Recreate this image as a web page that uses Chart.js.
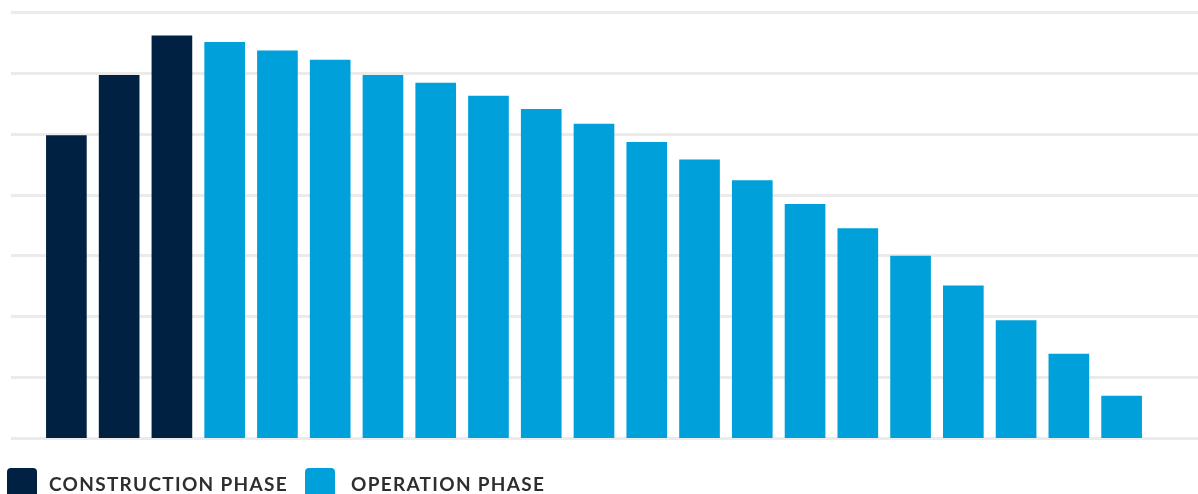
<!DOCTYPE html>
<html>
<head>
<meta charset="utf-8">
<title>Construction and operation phase</title>
<script src="https://cdn.jsdelivr.net/npm/chart.js@4.4.1/dist/chart.umd.min.js"></script>
<style>
  html, body { margin: 0; padding: 0; background: #fff; overflow: hidden; }
  #wrap { position: relative; width: 1198px; height: 494px; }
  #phaseChart { display: block; }
  .legend-box { position: absolute; top: 468px; width: 30px; height: 32px; border-radius: 4px; }
  .legend-text {
    position: absolute; top: 474px; line-height: 19px;
    font-family: Lato, "Open Sans", sans-serif; font-weight: 700; font-size: 19px;
    letter-spacing: 1.3px; color: #2e2e2e; white-space: nowrap;
  }
</style>
</head>
<body>
<div id="wrap">
  <canvas id="phaseChart" width="1198" height="494"></canvas>
  <div id="legend"></div>
</div>
<script>
const years = ["Y1", "Y2", "Y3", "Y4", "Y5", "Y6", "Y7", "Y8", "Y9", "Y10", "Y11",
  "Y12", "Y13", "Y14", "Y15", "Y16", "Y17", "Y18", "Y19", "Y20", "Y21"];
const constructionValues = [49.7, 59.6, 66.1, null, null, null, null, null, null, null, null,
  null, null, null, null, null, null, null, null, null, null];
const operationValues = [null, null, null, 65.0, 63.6, 62.1, 59.6, 58.3, 56.2, 54.0, 51.6,
  48.6, 45.7, 42.3, 38.4, 34.4, 29.9, 25.0, 19.3, 13.8, 6.9];
const yTicks = [0, 10, 20, 30, 40, 50, 60, 70];

const navy = "#012143";
const blue = "#00a0da";

// grid lines run past the plot area, almost edge to edge
const wideGrid = {
  id: "wideGrid",
  beforeDatasetsDraw(chart) {
    const ctx = chart.ctx;
    const y = chart.scales.y;
    ctx.save();
    ctx.strokeStyle = "#ebebeb";
    ctx.lineWidth = 3;
    yTicks.forEach(t => {
      const py = Math.round(y.getPixelForValue(t)) + 0.5;
      ctx.beginPath();
      ctx.moveTo(11, py);
      ctx.lineTo(chart.width, py);
      ctx.stroke();
    });
    ctx.restore();
  }
};

const chart = new Chart(document.getElementById("phaseChart"), {
  type: "bar",
  data: {
    labels: years,
    datasets: [
      { label: "CONSTRUCTION PHASE", data: constructionValues, backgroundColor: navy },
      { label: "OPERATION PHASE", data: operationValues, backgroundColor: blue }
    ]
  },
  options: {
    responsive: false,
    animation: false,
    layout: { padding: { left: 40, right: 50, top: 12, bottom: 56 } },
    datasets: { bar: { grouped: false, barThickness: 40 } },
    plugins: { legend: { display: false }, tooltip: { enabled: false } },
    scales: {
      x: { display: false },
      y: { display: false, min: 0, max: 70 }
    }
  },
  plugins: [wideGrid]
});

// legend under the chart
const legendPos = [{ box: 7, text: 49 }, { box: 305, text: 351 }];
const legendEl = document.getElementById("legend");
legendEl.innerHTML = chart.data.datasets.map((ds, i) => `
  <div class="legend-box" style="left:${legendPos[i].box}px;background:${ds.backgroundColor};"></div>
  <div class="legend-text" style="left:${legendPos[i].text}px;">${ds.label}</div>
`).join("");
</script>
</body>
</html>
